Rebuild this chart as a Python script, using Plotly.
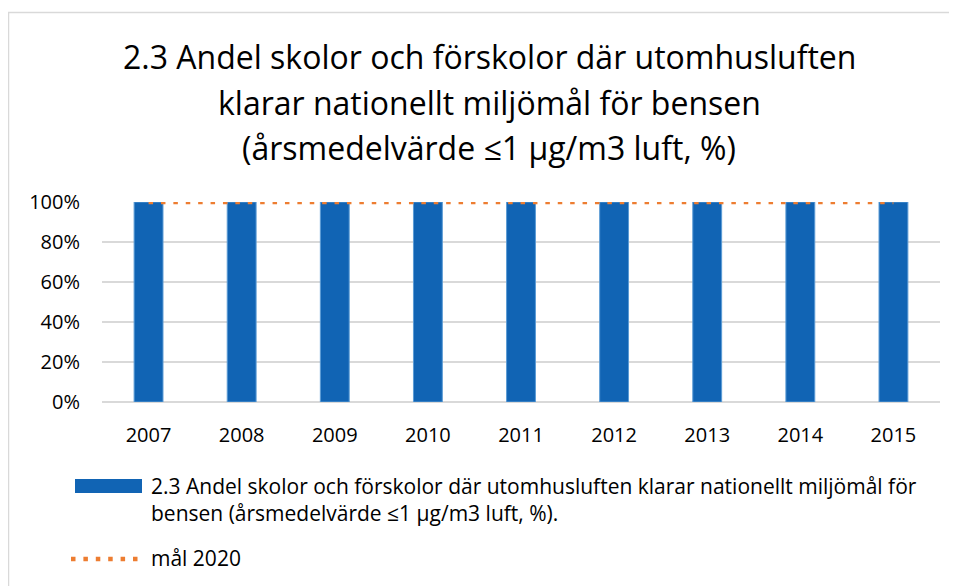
import plotly.graph_objects as go

years = ["2007", "2008", "2009", "2010", "2011", "2012", "2013", "2014", "2015"]
andel = [100, 100, 100, 100, 100, 100, 100, 100, 100]
mal_2020 = [100, 100, 100, 100, 100, 100, 100, 100, 100]
y_ticks = [0, 20, 40, 60, 80, 100]
y_ticklabels = ["0%", "20%", "40%", "60%", "80%", "100%"]
title_lines = [
    "2.3 Andel skolor och förskolor där utomhusluften",
    "klarar nationellt miljömål för bensen",
    "(årsmedelvärde ≤1 µg/m3 luft, %)",
]
legend_bar = ("2.3 Andel skolor och förskolor där utomhusluften klarar nationellt miljömål för<br>"
              "bensen (årsmedelvärde ≤1 µg/m3 luft, %).")
legend_line = "mål 2020"

# the page body has an 8px margin; work in screen pixels and shift
OFF = 8
W, H = 957 - OFF, 586 - OFF
L, R, T, B = 102 - OFF, 17, 202 - OFF, 184
PW, PH = W - L - R, H - T - B

def px(x):
    return (x - OFF - L) / PW

def py(y):
    return (H - B - (y - OFF)) / PH

FONT = "Open Sans"
BLUE = "#1164B4"
ORANGE = "#ED7D31"

fig = go.Figure()
fig.add_trace(go.Bar(
    x=years, y=andel, width=0.31,
    marker=dict(color=BLUE, line=dict(color="#5B9BD5", width=1)),
    showlegend=False,
))
fig.add_trace(go.Scatter(
    x=years, y=mal_2020, mode="lines",
    line=dict(color=ORANGE, width=4.5, dash="4.5px,7.9px"),
    showlegend=False,
))

shapes = [
    dict(type="rect", xref="paper", yref="paper",
         x0=px(8.5), x1=px(1000), y0=py(12.5), y1=py(700),
         line=dict(color="#D9D9D9", width=1.5), fillcolor="rgba(0,0,0,0)", layer="below"),
    dict(type="rect", xref="paper", yref="paper",
         x0=px(75), x1=px(142), y0=py(479), y1=py(493),
         line=dict(width=0), fillcolor=BLUE),
    dict(type="line", xref="paper", yref="paper",
         x0=px(71), x1=px(142), y0=py(559), y1=py(559),
         line=dict(color=ORANGE, width=4.5, dash="4.5px,7.9px")),
]

annotations = []
for t, yc in zip(title_lines, [57, 102, 147]):
    annotations.append(dict(
        text=t, xref="paper", yref="paper", x=px(489), y=py(yc),
        xanchor="center", yanchor="middle", showarrow=False,
        font=dict(family=FONT, size=32, color="#000000"),
    ))
annotations.append(dict(
    text=legend_bar, xref="paper", yref="paper", x=px(149), y=py(499),
    xanchor="left", yanchor="middle", align="left", showarrow=False,
    font=dict(family=FONT, size=21, color="#000000"),
))
annotations.append(dict(
    text=legend_line, xref="paper", yref="paper", x=px(149), y=py(558),
    xanchor="left", yanchor="middle", align="left", showarrow=False,
    font=dict(family=FONT, size=21, color="#000000"),
))

fig.update_layout(
    width=W, height=H,
    margin=dict(l=L, r=R, t=T, b=B, pad=0),
    paper_bgcolor="white", plot_bgcolor="white",
    shapes=shapes, annotations=annotations,
    showlegend=False,
    xaxis=dict(
        type="category", showgrid=False, zeroline=False, showline=False,
        ticks="outside", ticklen=15, tickcolor="rgba(0,0,0,0)",
        tickfont=dict(family=FONT, size=20, color="#000000"),
    ),
    yaxis=dict(
        range=[0, 100], tickvals=y_ticks, ticktext=y_ticklabels,
        showgrid=True, gridcolor="#D9D9D9", gridwidth=1.5,
        zeroline=True, zerolinecolor="#D9D9D9", zerolinewidth=1.5,
        showline=False,
        ticks="outside", ticklen=17, tickcolor="rgba(0,0,0,0)",
        tickfont=dict(family=FONT, size=20, color="#000000"),
    ),
)

fig.write_html("out.html")
